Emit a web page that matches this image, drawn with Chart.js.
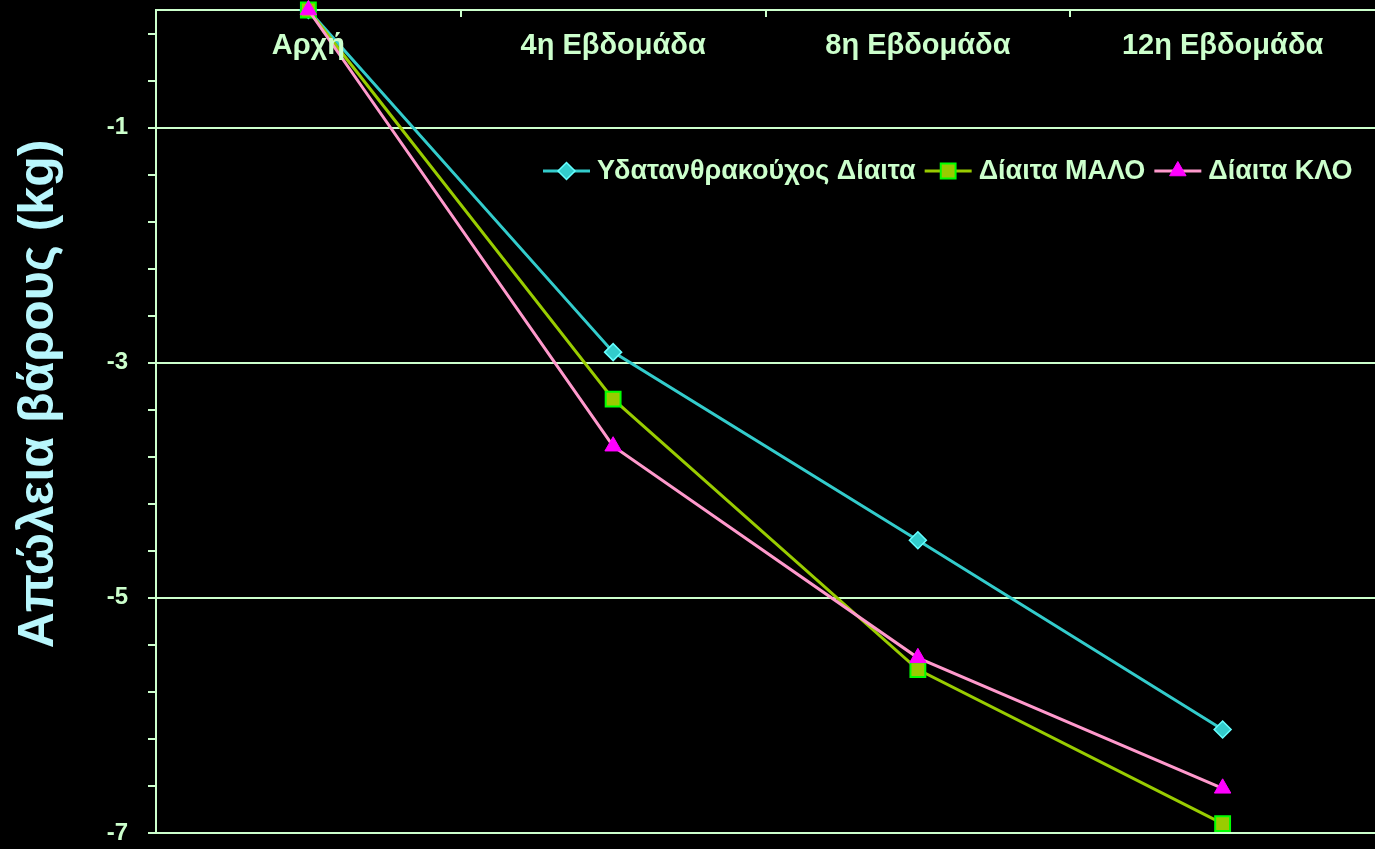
<!DOCTYPE html>
<html>
<head>
<meta charset="utf-8">
<script src="https://cdn.jsdelivr.net/npm/chart.js@4/dist/chart.umd.min.js"></script>
<style>
  html, body { margin: 0; padding: 0; background: #000; }
  #wrap { width: 1375px; height: 849px; }
</style>
</head>
<body>
<div id="wrap"><canvas id="c" width="1375" height="849"></canvas></div>
<script>
// Weight loss (kg) per diet over 12 weeks
const categories = ['Αρχή', '4η Εβδομάδα', '8η Εβδομάδα', '12η Εβδομάδα'];
const carbDiet = [0, -2.91, -4.51, -6.12];
const maloDiet = [0, -3.31, -5.61, -6.92];
const kloDiet  = [0, -3.71, -5.51, -6.62];
const seriesNames = ['Υδατανθρακούχος Δίαιτα', 'Δίαιτα ΜΑΛΟ', 'Δίαιτα ΚΛΟ'];
const yLabelTicks = [-7, -5, -3, -1];
const yMin = -7, yMax = 0, yMinorStep = 0.4;
const yTitle = 'Απώλεια βάρους (kg)';

const TEXT = '#ccffcc';
const FONT = '"Liberation Sans", Arial, sans-serif';

const styles = [
  { line: '#33cccc', fill: '#33cccc', border: '#66ffff', pointStyle: 'rectRot', radius: 8.5, borderW: 1.5 },
  { line: '#99cc00', fill: '#99cc00', border: '#00ff00', pointStyle: 'rect', radius: 10.5, borderW: 2 },
  { line: '#ff99cc', fill: '#ff00ff', border: '#ff00ff', pointStyle: 'triangle', radius: 9.5, borderW: 1 }
];
const seriesData = [carbDiet, maloDiet, kloDiet];

const isLabelTick = v => yLabelTicks.includes(Math.round(v * 10) / 10);

const overlay = {
  id: 'overlay',
  beforeDraw(chart) {
    const c = chart.ctx;
    c.save();
    c.fillStyle = '#000';
    c.fillRect(0, 0, chart.width, chart.height);
    c.restore();
  },
  afterDatasetsDraw(chart) {
    const c = chart.ctx;
    const x = chart.scales.x;
    const area = chart.chartArea;
    c.save();

    // tick marks between categories, pointing down from the top axis
    c.strokeStyle = TEXT;
    c.lineWidth = 2;
    for (let i = 1; i < categories.length; i++) {
      const px = Math.round((x.getPixelForTick(i - 1) + x.getPixelForTick(i)) / 2);
      c.beginPath();
      c.moveTo(px, area.top);
      c.lineTo(px, area.top + 7);
      c.stroke();
    }

    // category labels just under the top axis
    c.fillStyle = TEXT;
    c.font = 'bold 29px ' + FONT;
    c.textAlign = 'center';
    c.textBaseline = 'middle';
    categories.forEach((lab, i) => c.fillText(lab, x.getPixelForTick(i), area.top + 36));

    // y axis title
    c.save();
    c.translate(53, 394);
    c.rotate(-Math.PI / 2);
    c.fillStyle = '#b8f6fc';
    c.font = 'bold 50px ' + FONT;
    c.textAlign = 'center';
    c.textBaseline = 'alphabetic';
    c.fillText(yTitle, 0, 0);
    c.restore();

    // legend
    c.font = 'bold 27px ' + FONT;
    c.textAlign = 'left';
    c.textBaseline = 'middle';
    let lx = 543;
    const ly = 171;
    seriesNames.forEach((name, i) => {
      const s = styles[i];
      c.strokeStyle = s.line;
      c.lineWidth = 3;
      c.beginPath();
      c.moveTo(lx, ly);
      c.lineTo(lx + 47, ly);
      c.stroke();
      c.fillStyle = s.fill;
      c.strokeStyle = s.border;
      c.lineWidth = s.borderW;
      Chart.helpers.drawPoint(c, { pointStyle: s.pointStyle, radius: s.radius, rotation: 0, borderWidth: s.borderW }, lx + 23.5, ly);
      c.fillStyle = TEXT;
      c.fillText(name, lx + 54, ly + 1);
      lx += 54 + c.measureText(name).width + 9;
    });
    c.restore();
  }
};

new Chart(document.getElementById('c'), {
  type: 'line',
  data: {
    labels: categories,
    datasets: seriesData.map((d, i) => ({
      label: seriesNames[i],
      data: d,
      borderColor: styles[i].line,
      borderWidth: 3,
      backgroundColor: styles[i].fill,
      pointBackgroundColor: styles[i].fill,
      pointBorderColor: styles[i].border,
      pointBorderWidth: styles[i].borderW,
      pointStyle: styles[i].pointStyle,
      pointRadius: styles[i].radius,
      pointHoverRadius: styles[i].radius,
      tension: 0,
      fill: false,
      clip: false,
      order: 3 - i
    }))
  },
  options: {
    responsive: false,
    devicePixelRatio: 1,
    animation: false,
    events: [],
    layout: { autoPadding: false, padding: { top: 10, bottom: 16, left: 0, right: -4 } },
    plugins: { legend: { display: false }, tooltip: { enabled: false }, title: { display: false } },
    scales: {
      x: {
        type: 'category',
        position: 'top',
        offset: true,
        ticks: { display: false },
        grid: { display: true, drawOnChartArea: false, drawTicks: false },
        border: { display: true, color: TEXT, width: 2 },
        afterFit(scale) {
          scale.height = 0;
          scale.paddingLeft = scale.paddingRight = scale.paddingTop = scale.paddingBottom = 0;
        }
      },
      y: {
        min: yMin,
        max: yMax,
        afterBuildTicks(scale) {
          const ticks = [];
          const n = Math.round((yMax - yMin) / yMinorStep);
          for (let i = 0; i < n; i++) ticks.push({ value: Math.round((yMin + i * yMinorStep) * 10) / 10 });
          scale.ticks = ticks;
        },
        afterFit(scale) {
          scale.width = 156;
          scale.paddingLeft = scale.paddingRight = scale.paddingTop = scale.paddingBottom = 0;
        },
        ticks: {
          color: TEXT,
          font: { family: FONT, size: 24, weight: 'bold' },
          padding: 20,
          autoSkip: false,
          callback: v => isLabelTick(v) ? String(Math.round(v)) : ''
        },
        grid: {
          color: ctx => (ctx.tick && isLabelTick(ctx.tick.value)) ? TEXT : 'rgba(0,0,0,0)',
          tickColor: TEXT,
          tickLength: 8,
          lineWidth: 2
        },
        border: { display: true, color: TEXT, width: 2 }
      }
    }
  },
  plugins: [overlay]
});
</script>
</body>
</html>
